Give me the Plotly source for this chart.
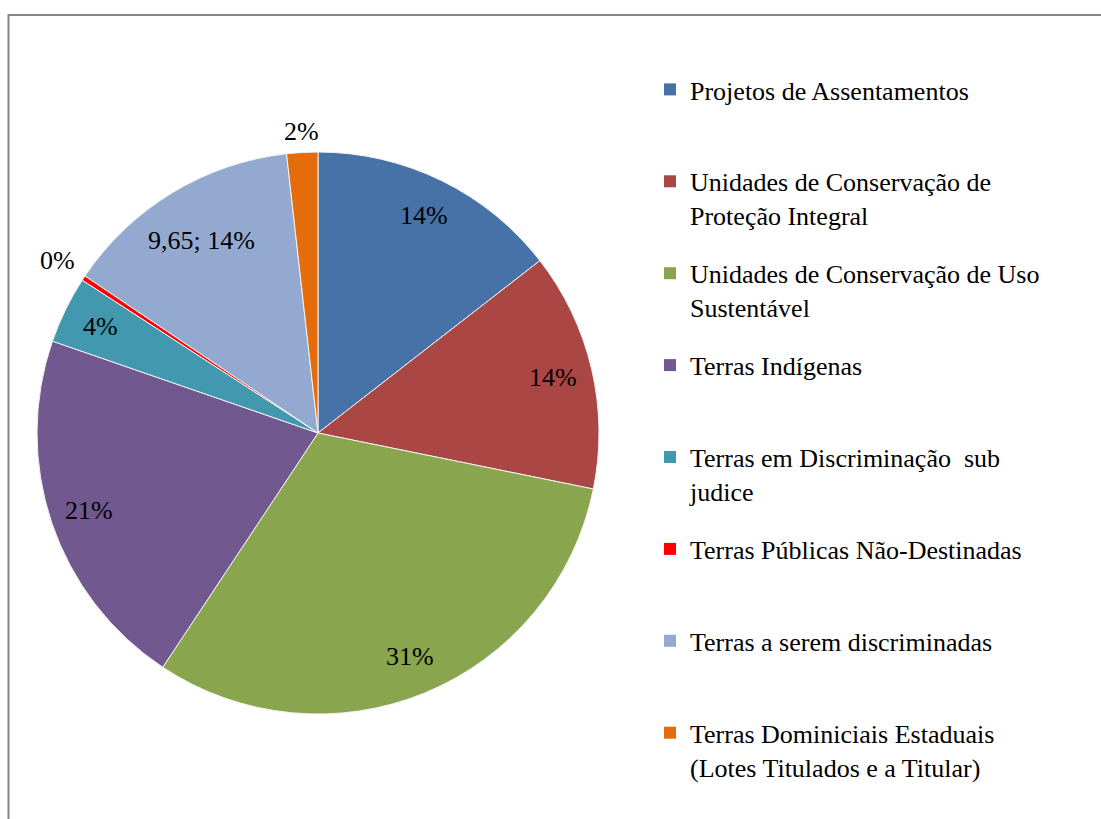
import math
import plotly.graph_objects as go

# Áreas por categoria fundiária
categorias = [
    "Projetos de Assentamentos",
    "Unidades de Conservação de<br>Proteção Integral",
    "Unidades de Conservação de Uso<br>Sustentável",
    "Terras Indígenas",
    "Terras em Discriminação  sub<br>judice",
    "Terras Públicas Não-Destinadas",
    "Terras a serem discriminadas",
    "Terras Dominiciais Estaduais<br>(Lotes Titulados e a Titular)",
]
valores = [10.15, 9.6, 21.8, 14.7, 2.7, 0.2, 9.65, 1.25]
cores = ["#4672A7", "#AA4644", "#89A54E", "#71588F",
         "#4198AF", "#FF0000", "#93A9CF", "#E46C0A"]
mostra_valor = [False, False, False, False, False, False, True, False]
rotulo_fora = [False, False, False, False, False, True, False, True]

FONTE = "Liberation Serif"
TAM = 26

W, H = 1101, 819
cx, cy, r = 318, 433, 281

fig = go.Figure(go.Pie(
    labels=[c.replace("<br>", " ") for c in categorias],
    values=valores,
    sort=False,
    direction="clockwise",
    rotation=0,
    marker=dict(colors=cores, line=dict(color="#F2F2F2", width=1)),
    textinfo="none",
    hoverinfo="skip",
    showlegend=False,
    domain=dict(x=[(cx - r) / W, (cx + r) / W],
                y=[(H - cy - r) / H, (H - cy + r) / H]),
))

# legenda: uma entrada por categoria, todas com duas linhas de altura
for i, (nome, cor) in enumerate(zip(categorias, cores)):
    texto = nome if "<br>" in nome else nome + "<br> "
    fig.add_trace(go.Scatter(
        x=[None], y=[None], mode="markers", name=texto,
        legendgroup=f"g{i}",
        marker=dict(symbol="square", size=12, color=cor),
        hoverinfo="skip",
    ))

# rótulos de dados ao longo da bissetriz de cada fatia
total = sum(valores)
acum = 0.0
anotacoes = []
for v, mv, fora in zip(valores, mostra_valor, rotulo_fora):
    meio = (acum + v / 2) / total * 2 * math.pi
    acum += v
    pct = f"{round(v / total * 100):.0f}%"
    txt = (f"{v:.2f}".replace(".", ",") + "; " + pct) if mv else pct
    if fora:
        d = r * (1.075 if abs(math.sin(meio)) < 0.3 else 1.11)
    else:
        d = r * (0.80 if mv else 0.86)
    px = cx + d * math.sin(meio)
    py = cy - d * math.cos(meio)
    anotacoes.append(dict(
        x=px / W, y=1 - py / H, xref="paper", yref="paper",
        text=txt, showarrow=False, xanchor="center", yanchor="middle",
        font=dict(family=FONTE, size=TAM, color="#000000"),
    ))

fig.update_layout(
    width=W, height=H,
    margin=dict(l=0, r=0, t=0, b=0),
    paper_bgcolor="white",
    plot_bgcolor="white",
    xaxis=dict(visible=False),
    yaxis=dict(visible=False),
    font=dict(family=FONTE, size=TAM, color="#000000"),
    annotations=anotacoes,
    legend=dict(
        x=650 / W, xanchor="left",
        y=1 - 66 / H, yanchor="top",
        valign="top",
        tracegroupgap=21.3,
        font=dict(family=FONTE, size=TAM, color="#000000"),
        bgcolor="rgba(0,0,0,0)",
        itemwidth=30,
    ),
    shapes=[dict(
        type="rect", xref="paper", yref="paper",
        x0=8.5 / W, x1=1.02, y0=-0.02, y1=1 - 15 / H,
        line=dict(color="#868686", width=2),
        fillcolor="rgba(0,0,0,0)", layer="below",
    )],
)

fig.write_html("out.html")
